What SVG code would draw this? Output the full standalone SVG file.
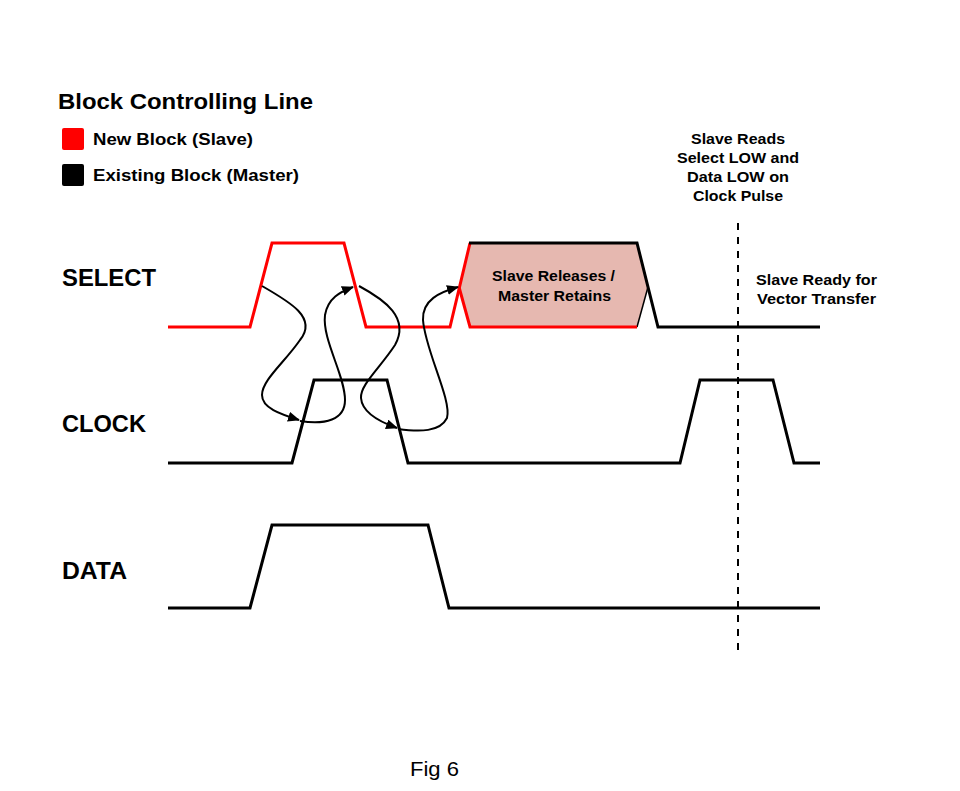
<svg xmlns="http://www.w3.org/2000/svg" width="960" height="791" viewBox="0 0 960 791">
<style>
.t{font-family:"Liberation Sans",Arial,sans-serif;font-weight:bold;fill:#000}
.sig{fill:none;stroke-width:3;stroke-linejoin:miter}
.blk{stroke:#000}
.red{stroke:#ff0000}
.arr{fill:none;stroke:#000;stroke-width:2;marker-end:url(#ah)}
</style>
<defs>
<marker id="ah" viewBox="0 0 12 10" refX="11" refY="5" markerWidth="12" markerHeight="10" markerUnits="userSpaceOnUse" orient="auto">
<path d="M0,0 L12,5 L0,10 z" fill="#000"/>
</marker>
</defs>
<rect width="960" height="791" fill="#fff"/>
<g id="legend">
<text class="t" x="58" y="109" font-size="22" textLength="255" lengthAdjust="spacingAndGlyphs">Block Controlling Line</text>
<rect x="62" y="128" width="22" height="22" rx="2" fill="#ff0000"/>
<text class="t" x="93" y="145" font-size="17" textLength="160" lengthAdjust="spacingAndGlyphs">New Block (Slave)</text>
<rect x="62" y="164" width="22" height="22" rx="2" fill="#000"/>
<text class="t" x="93" y="181" font-size="17" textLength="206" lengthAdjust="spacingAndGlyphs">Existing Block (Master)</text>
</g>
<g id="labels">
<text class="t" x="62" y="286" font-size="23" textLength="94" lengthAdjust="spacingAndGlyphs">SELECT</text>
<text class="t" x="62" y="432" font-size="23" textLength="84" lengthAdjust="spacingAndGlyphs">CLOCK</text>
<text class="t" x="62" y="579" font-size="23" textLength="65" lengthAdjust="spacingAndGlyphs">DATA</text>
</g>
<g id="select">
<polygon points="459,287 470,243 637,243 648,287 637,327 470,327" fill="#e6b8b0"/>
<line x1="648" y1="287" x2="637" y2="327" stroke="#000" stroke-width="1.5"/>
<polyline class="sig red" points="168,327 250,327 272,243 344,243 366,327 450,327 470,243"/>
<polyline class="sig red" points="459,287 470,327 637,327"/>
<polyline class="sig blk" points="469,243 637,243 658,327 820,327"/>
<text class="t" x="492" y="281" font-size="15" textLength="123" lengthAdjust="spacingAndGlyphs">Slave Releases /</text>
<text class="t" x="498" y="301" font-size="15" textLength="113" lengthAdjust="spacingAndGlyphs">Master Retains</text>
</g>
<g id="clock">
<polyline class="sig blk" points="168,463 292,463 314,380 387,380 408,463 680,463 700,380 773,380 794,463 820,463"/>
</g>
<g id="data">
<polyline class="sig blk" points="168,608 250,608 272,525 428,525 449,608 820,608"/>
</g>
<g id="marker-line">
<line x1="738" y1="223" x2="738" y2="652" stroke="#000" stroke-width="2" stroke-dasharray="7,7"/>
<text class="t" x="691" y="144" font-size="15" textLength="94" lengthAdjust="spacingAndGlyphs">Slave Reads</text>
<text class="t" x="677" y="163" font-size="15" textLength="122" lengthAdjust="spacingAndGlyphs">Select LOW and</text>
<text class="t" x="687" y="182" font-size="15" textLength="102" lengthAdjust="spacingAndGlyphs">Data LOW on</text>
<text class="t" x="693" y="201" font-size="15" textLength="90" lengthAdjust="spacingAndGlyphs">Clock Pulse</text>
<text class="t" x="756" y="285" font-size="15" textLength="121" lengthAdjust="spacingAndGlyphs">Slave Ready for</text>
<text class="t" x="757" y="304" font-size="15" textLength="119" lengthAdjust="spacingAndGlyphs">Vector Transfer</text>
</g>
<g id="connectors">
<path class="arr" d="M262,286 C290,302 318,318 300,340 C285,362 262,380 262,395 C262,408 280,414 299,420"/>
<path class="arr" d="M300,421 C325,425 345,420 345,400 C345,375 322,340 325,315 C328,298 340,292 353,287"/>
<path class="arr" d="M359,286 C385,300 410,318 395,345 C380,368 360,385 361,398 C362,412 380,422 397,428"/>
<path class="arr" d="M398,429 C420,432 440,432 447,418 C452,400 425,350 423,320 C422,300 440,292 458,287"/>
</g>
<text x="410" y="776" font-family="Liberation Sans,Arial,sans-serif" font-size="21" textLength="49" lengthAdjust="spacingAndGlyphs">Fig 6</text>
</svg>
